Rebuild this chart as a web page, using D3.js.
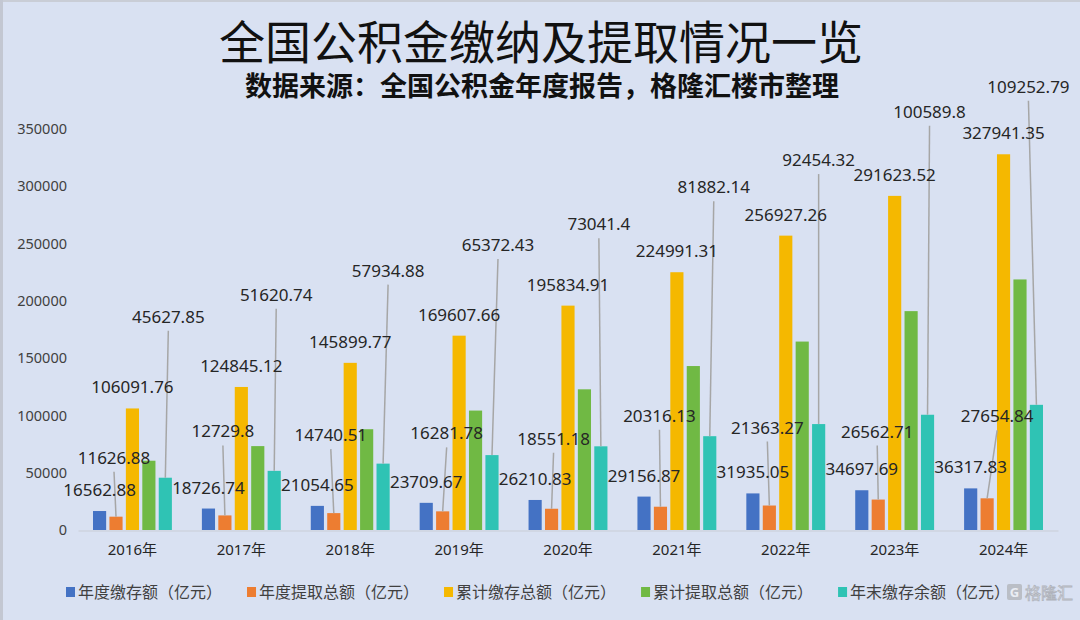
<!DOCTYPE html>
<html>
<head>
<meta charset="utf-8">
<script src="https://cdn.jsdelivr.net/npm/d3@7"></script>
<style>
    body { margin: 0; background: #d9e1f2; }
    #chart-area { width: 1080px; height: 620px; }
    text { font-family: "Noto Sans", "Noto Sans CJK SC", sans-serif; }
</style>
</head>
<body>
<div id="chart-area"></div>
<script>

// chart data (亿元)
const years = ["2016年", "2017年", "2018年", "2019年", "2020年", "2021年", "2022年", "2023年", "2024年"];
const seriesNames = ["年度缴存额（亿元）", "年度提取总额（亿元）", "累计缴存总额（亿元）", "累计提取总额（亿元）", "年末缴存余额（亿元）"];
const annualDeposit = [16562.88, 18726.74, 21054.65, 23709.67, 26210.83, 29156.87, 31935.05, 34697.69, 36317.83];
const annualWithdraw = [11626.88, 12729.8, 14740.51, 16281.78, 18551.18, 20316.13, 21363.27, 26562.71, 27654.84];
const totalDeposit = [106091.76, 124845.12, 145899.77, 169607.66, 195834.91, 224991.31, 256927.26, 291623.52, 327941.35];
const totalWithdraw = [60463.91, 73224.38, 87964.89, 104235.23, 122793.51, 143109.17, 164472.94, 191033.72, 218688.56];
const yearEndBalance = [45627.85, 51620.74, 57934.88, 65372.43, 73041.4, 81882.14, 92454.32, 100589.8, 109252.79];
const yTicks = [0, 50000, 100000, 150000, 200000, 250000, 300000, 350000];

// label placement (pixel offset of label centre from bar top), green series has no labels
const orangeLabelDx = [-2, -2, -3, 4, 2, -1, -2, -1, 10];
const orangeLabelDy = [-59, -84, -78, -78, -70, -91, -78, -68, -82];
const tealLabelDx = [3, 2, 5, 6, -2, 4, 0, 2, -8];
const tealLabelDy = [-161, -176, -193, -210, -222, -249, -264, -303, -318];

const colors = ["#4472c4", "#ed7d31", "#f5b800", "#70b944", "#2fc3b4"];


class GroupedBars {

    constructor(parentElement) {
        this.parentElement = parentElement;
        this.series = [annualDeposit, annualWithdraw, totalDeposit, totalWithdraw, yearEndBalance];
        this.initVis();
    }

    initVis() {
        let vis = this;

        vis.width = 1080;
        vis.height = 620;

        vis.svg = d3.select("#" + vis.parentElement).append("svg")
            .attr("width", vis.width)
            .attr("height", vis.height);

        vis.svg.append("rect")
            .attr("width", vis.width)
            .attr("height", vis.height)
            .attr("fill", "#d9e1f2");

        // faint frame on top / left edges
        vis.svg.append("rect").attr("width", vis.width).attr("height", 2).attr("fill", "#c9cdd6");
        vis.svg.append("rect").attr("width", 3).attr("height", vis.height).attr("fill", "#c3c7d2");

        // titles
        vis.svg.append("text")
            .attr("x", 541)
            .attr("y", 59)
            .attr("text-anchor", "middle")
            .style("font-family", "'Liberation Sans', 'Noto Sans CJK SC'")
            .style("font-size", "46px")
            .style("font-weight", 400)
            .attr("fill", "#111")
            .text("全国公积金缴纳及提取情况一览");

        vis.svg.append("text")
            .attr("x", 542)
            .attr("y", 96)
            .attr("text-anchor", "middle")
            .style("font-family", "'Liberation Sans', 'Noto Sans CJK SC'")
            .style("font-size", "27px")
            .style("font-weight", 700)
            .attr("fill", "#111")
            .text("数据来源：全国公积金年度报告，格隆汇楼市整理");

        // scales
        vis.x0 = d3.scaleBand()
            .domain(years)
            .range([78, 1058]);

        vis.x1 = d3.scaleBand()
            .domain(d3.range(seriesNames.length))
            .range([15, vis.x0.bandwidth() - 15])
            .paddingInner(0.2);

        vis.y = d3.scaleLinear()
            .domain([0, 350000])
            .range([530, 129]);

        // y axis labels
        vis.yAxis = d3.axisLeft(vis.y)
            .tickValues(yTicks)
            .tickSize(0)
            .tickPadding(0)
            .tickFormat(d3.format("d"));

        let yg = vis.svg.append("g")
            .attr("class", "y-axis axis")
            .attr("transform", "translate(67, 0)")
            .call(vis.yAxis);
        yg.select(".domain").remove();
        yg.selectAll("text")
            .style("font-size", "14.5px")
            .attr("fill", "#404040");

        // x axis
        vis.xAxis = d3.axisBottom(vis.x0)
            .tickSize(0)
            .tickPadding(14);

        let xg = vis.svg.append("g")
            .attr("class", "x-axis axis")
            .attr("transform", "translate(0, 530.5)")
            .call(vis.xAxis);
        xg.select(".domain")
            .attr("stroke", "#c9cdd6")
            .attr("stroke-width", 1.2);
        xg.selectAll("text")
            .style("font-size", "15px")
            .attr("fill", "#262626");

        vis.barLayer = vis.svg.append("g");
        vis.lineLayer = vis.svg.append("g");
        vis.labelLayer = vis.svg.append("g");

        vis.drawLegend();
        vis.wrangleData();
    }

    wrangleData() {
        let vis = this;

        vis.bars = [];
        years.forEach((yr, i) => {
            vis.series.forEach((s, k) => {
                vis.bars.push({year: yr, idx: i, series: k, value: s[i]});
            });
        });

        vis.updateVis();
    }

    updateVis() {
        let vis = this;
        let bw = vis.x1.bandwidth();

        vis.barLayer.selectAll("rect")
            .data(vis.bars)
            .enter()
            .append("rect")
            .attr("x", d => vis.x0(d.year) + vis.x1(d.series))
            .attr("y", d => vis.y(d.value))
            .attr("width", bw)
            .attr("height", d => vis.y(0) - vis.y(d.value))
            .attr("fill", d => colors[d.series]);

        // labels, blue and yellow sit right above bar; orange and teal pulled up with leader lines
        let labelled = vis.bars.filter(d => d.series !== 3).map(d => {
            let cx = vis.x0(d.year) + vis.x1(d.series) + bw / 2;
            let top = vis.y(d.value);
            let dx = 0, dy = -21, leader = false;
            if (d.series === 1) {
                dx = orangeLabelDx[d.idx]; dy = orangeLabelDy[d.idx]; leader = true;
            } else if (d.series === 4) {
                dx = tealLabelDx[d.idx]; dy = tealLabelDy[d.idx]; leader = true;
            }
            return {bx: cx, top: top, lx: cx + dx, ly: top + dy, leader: leader, text: String(d.value)};
        });

        vis.lineLayer.selectAll("line")
            .data(labelled.filter(d => d.leader))
            .enter()
            .append("line")
            .attr("x1", d => d.lx)
            .attr("y1", d => d.ly + 14)
            .attr("x2", d => d.bx)
            .attr("y2", d => d.top)
            .attr("stroke", "#a6a6a6")
            .attr("stroke-width", 1.5);

        vis.labelLayer.selectAll("text")
            .data(labelled)
            .enter()
            .append("text")
            .attr("x", d => d.lx)
            .attr("y", d => d.ly + 6)
            .attr("text-anchor", "middle")
            .style("font-size", "17px")
            .attr("fill", "#262626")
            .text(d => d.text);
    }

    drawLegend() {
        let vis = this;
        let lx = 66;
        let legend = vis.svg.append("g").attr("class", "legend");

        seriesNames.forEach((name, k) => {
            legend.append("rect")
                .attr("x", lx)
                .attr("y", 587)
                .attr("width", 9)
                .attr("height", 10)
                .attr("fill", colors[k]);
            let t = legend.append("text")
                .attr("x", lx + 12)
                .attr("y", 598)
                .style("font-family", "'Noto Sans CJK SC'")
                .style("font-size", "16px")
                .attr("fill", "#404040")
                .text(name);
            lx += 12 + t.node().getComputedTextLength() + 25;
        });

        // watermark
        let wm = vis.svg.append("g").attr("opacity", 0.85);
        wm.append("rect")
            .attr("x", 1007).attr("y", 584)
            .attr("width", 15).attr("height", 16)
            .attr("rx", 2)
            .attr("fill", "#b5b8bf");
        wm.append("text")
            .attr("x", 1014.5).attr("y", 597)
            .attr("text-anchor", "middle")
            .style("font-size", "13px")
            .style("font-weight", 700)
            .attr("fill", "#eef0f5")
            .text("G");
        wm.append("text")
            .attr("x", 1025).attr("y", 599)
            .style("font-family", "'Noto Sans CJK SC'")
            .style("font-size", "16px")
            .attr("fill", "#f3f4f7")
            .attr("stroke", "#a9acb3")
            .attr("stroke-width", 0.8)
            .text("格隆汇");
    }
}

new GroupedBars("chart-area");

</script>
</body>
</html>
